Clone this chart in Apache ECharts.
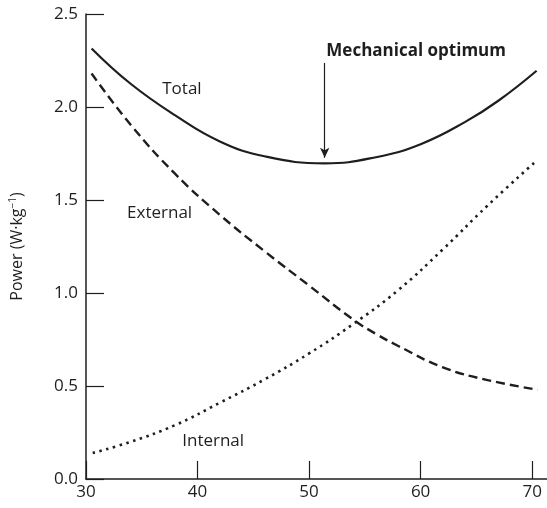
<!DOCTYPE html>
<html><head><meta charset="utf-8">
<script src="https://cdn.jsdelivr.net/npm/echarts@6/dist/echarts.min.js"></script>
<style>html,body{margin:0;padding:0;background:#fff}#c{width:547px;height:508px}</style>
</head><body><div id="c"></div>
<script>
// Values (x = speed, y = power in W·kg⁻¹)
const totalX    = [30.5, 34, 38, 42, 46, 51.4, 56, 60, 64, 67, 70.4];
const totalY    = [2.315, 2.125, 1.955, 1.815, 1.735, 1.697, 1.73, 1.80, 1.92, 2.035, 2.195];
const externalX = [30.5, 34, 38, 42, 46, 50, 54, 56, 58, 62, 66, 70.5];
const externalY = [2.18, 1.905, 1.64, 1.42, 1.225, 1.04, 0.855, 0.78, 0.715, 0.60, 0.532, 0.48];
const internalX = [30.6, 34, 38, 42, 46, 50, 54, 58, 62, 66, 70.3];
const internalY = [0.14, 0.20, 0.29, 0.41, 0.535, 0.675, 0.835, 1.016, 1.235, 1.47, 1.706];
const xTicks = [30, 40, 50, 60, 70];
const optimumX = 51.4;
const optimumY = 1.697;
const arrowTopY = 2.237;
const curveLabels = [
  { text: 'Total',    x: 38.6, y: 2.097, bold: false },
  { text: 'External', x: 36.6, y: 1.43,  bold: false },
  { text: 'Internal', x: 41.4, y: 0.204, bold: false },
  { text: 'Mechanical optimum', x: 59.6, y: 2.30, bold: true }
];

const FONT = 'Open Sans';
const INK = '#1e1e1e';
const pairs = (xs, ys) => xs.map((x, i) => [x, ys[i]]);

const chart = echarts.init(document.getElementById('c'), null, { renderer: 'canvas' });
const option = {
  animation: false,
  backgroundColor: '#fff',
  grid: { left: 81, right: 0, top: 14, bottom: 29, containLabel: false },
  xAxis: {
    type: 'value', min: 30, max: 71.33,
    axisLine: { show: true, lineStyle: { color: INK, width: 1.5 } },
    axisTick: { show: true, inside: true, length: 18, customValues: xTicks, lineStyle: { color: INK, width: 1.2 } },
    axisLabel: { show: true, customValues: xTicks, color: INK, fontFamily: FONT, fontSize: 17, margin: 5 },
    splitLine: { show: false }
  },
  yAxis: {
    type: 'value', min: 0, max: 2.5, interval: 0.5,
    name: 'Power (W·kg{sup|−1})',
    nameLocation: 'middle', nameGap: 60, nameRotate: 90,
    nameTextStyle: { color: INK, fontFamily: FONT, fontSize: 16,
      rich: { sup: { fontSize: 10, verticalAlign: 'top', padding: [0,0,8,0], fontFamily: FONT, color: INK } } },
    axisLine: { show: true, lineStyle: { color: INK, width: 1.5 } },
    axisTick: { show: true, inside: true, length: 18, lineStyle: { color: INK, width: 1.2 } },
    axisLabel: { color: INK, fontFamily: FONT, fontSize: 17, margin: 8, formatter: v => v.toFixed(1) },
    splitLine: { show: false }
  },
  series: [
    { name: 'Total', type: 'line', data: pairs(totalX, totalY), smooth: 0.45, showSymbol: false, symbol: 'none',
      lineStyle: { color: INK, width: 2.2, type: 'solid' },
      markLine: {
        silent: true, symbol: ['none', 'arrow'], symbolSize: [7, 10],
        label: { show: false },
        lineStyle: { color: INK, width: 1.2, type: 'solid' },
        emphasis: { disabled: true },
        data: [[{ coord: [optimumX, arrowTopY] }, { coord: [optimumX, optimumY + 0.03] }]]
      } },
    { name: 'External', type: 'line', data: pairs(externalX, externalY), smooth: 0.45, showSymbol: false, symbol: 'none',
      lineStyle: { color: INK, width: 2.4, type: [9, 5] } },
    { name: 'Internal', type: 'line', data: pairs(internalX, internalY), smooth: 0.45, showSymbol: false, symbol: 'none',
      lineStyle: { color: INK, width: 2.6, type: [2.5, 4.5] } }
  ]
};
chart.setOption(option);

const graphics = curveLabels.map(l => {
  const p = chart.convertToPixel({ gridIndex: 0 }, [l.x, l.y]);
  return { type: 'text', x: p[0], y: p[1],
    style: { text: l.text, fill: INK, font: (l.bold ? 'bold ' : '') + '17px "' + FONT + '"',
      textAlign: 'center', textVerticalAlign: 'middle' } };
});
chart.setOption({ graphic: graphics });
</script>
</body></html>
